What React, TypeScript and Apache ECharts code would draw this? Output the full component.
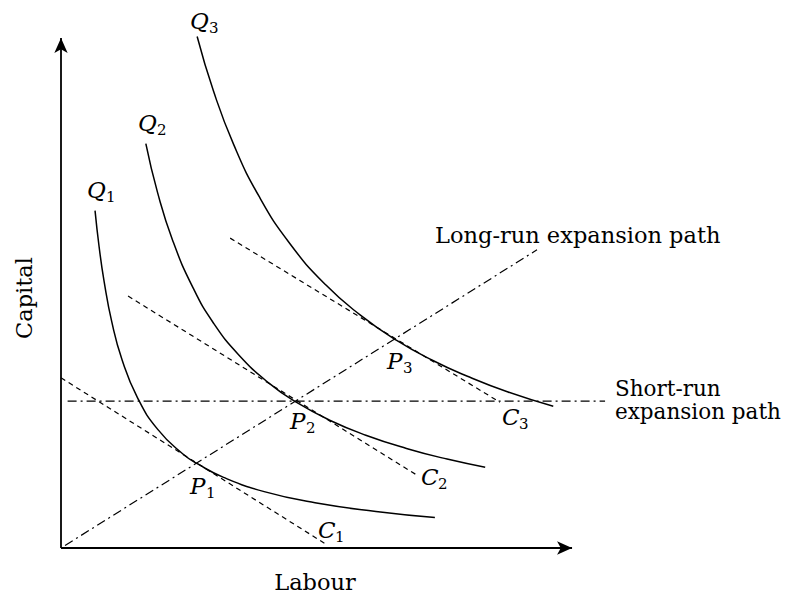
import React, { useEffect, useRef } from "react";
import * as echarts from "echarts";

// Isoquants
const q1X = [0.67, 0.75, 0.85, 1.0, 1.2, 1.5, 1.9, 2.4, 2.7, 3.2, 4.0, 5.0, 6.2, 7.36];
const q1Y = [6.64, 5.93, 5.24, 4.45, 3.71, 2.97, 2.34, 1.85, 1.65, 1.39, 1.11, 0.89, 0.72, 0.6];
const q2X = [1.67, 1.9, 2.2, 2.6, 3.0, 3.5, 4.1, 4.63, 5.3, 6.0, 6.8, 7.6, 8.35];
const q2Y = [7.96, 7.0, 6.05, 5.12, 4.43, 3.8, 3.24, 2.87, 2.51, 2.22, 1.96, 1.75, 1.59];
const q3X = [2.68, 3.0, 3.4, 3.9, 4.5, 5.2, 5.9, 6.6, 7.3, 8.0, 8.8, 9.69];
const q3Y = [10.07, 9.0, 7.94, 6.92, 6.0, 5.19, 4.58, 4.09, 3.7, 3.38, 3.07, 2.79];

// Isocost lines (endpoints)
const c1 = [[0, 3.35], [5.24, 0.06]];
const c2 = [[1.32, 4.96], [7.03, 1.42]];
const c3 = [[3.33, 6.1], [8.64, 2.87]];

// Expansion paths
const longRun = [[0.08, 0.05], [9.37, 5.87]];
const shortRun = [[0.13, 2.89], [10.71, 2.89]];

// Axis extents
const axisEndX = 10.06;
const axisEndY = 10.04;

const zip = (xs: number[], ys: number[]) => xs.map((x, i) => [x, ys[i]]);

const FONT = "'DejaVu Serif', 'Liberation Serif', serif";

function sub(x: number, y: number, letter: string, idx: string, off: number) {
  return [
    {
      type: "text",
      x,
      y,
      style: {
        text: letter,
        font: `italic 23px ${FONT}`,
        fill: "#000",
        align: "left",
        verticalAlign: "middle",
      },
    },
    {
      type: "text",
      x: x + off,
      y: y + 7,
      style: {
        text: idx,
        font: `15px ${FONT}`,
        fill: "#000",
        align: "left",
        verticalAlign: "middle",
      },
    },
  ];
}

export default function App() {
  const ref = useRef<HTMLDivElement>(null);
  useEffect(() => {
    const chart = echarts.init(ref.current!, undefined, { renderer: "svg" });
    const curve = { color: "#000", width: 1.5, type: "solid" as const };
    const dashed = { color: "#000", width: 1.2, type: [5, 4] as any };
    const dashDot = { color: "#000", width: 1.2, type: [9, 4, 2, 4] as any };
    const lineSeries = (data: number[][], lineStyle: any, smooth = false) => ({
      type: "line",
      data,
      showSymbol: false,
      symbol: "none",
      smooth,
      lineStyle,
      silent: true,
      clip: false,
    });
    const label = (x: number, y: number, text: string, align = "left", rotation = 0, size = 22.5) => ({
      type: "text",
      x,
      y,
      rotation,
      style: { text, font: `${size}px ${FONT}`, fill: "#000", align, verticalAlign: "middle" },
    });
    chart.setOption({
      animation: false,
      backgroundColor: "#fff",
      grid: { left: 61, right: 30.8, top: 4.44, bottom: 56 },
      xAxis: { type: "value", min: 0, max: 14, show: false },
      yAxis: { type: "value", min: 0, max: 10.7, show: false },
      series: [
        lineSeries(zip(q1X, q1Y), curve, true),
        lineSeries(zip(q2X, q2Y), curve, true),
        lineSeries(zip(q3X, q3Y), curve, true),
        lineSeries(c1, dashed),
        lineSeries(c2, dashed),
        lineSeries(c3, dashed),
        lineSeries(longRun, dashDot),
        lineSeries(shortRun, dashDot),
        {
          type: "line",
          data: [[0, 0]],
          symbol: "none",
          silent: true,
          lineStyle: { width: 0 },
          markLine: {
            silent: true,
            animation: false,
            symbol: ["none", "arrow"],
            symbolSize: [10, 15],
            label: { show: false },
            lineStyle: { color: "#000", width: 1.8, type: "solid" },
            emphasis: { disabled: true },
            data: [
              [{ coord: [0, 0] }, { coord: [axisEndX, 0] }],
              [{ coord: [0, 0] }, { coord: [0, axisEndY] }],
            ],
          },
        },
      ],
      graphic: [
        ...sub(87, 190, "Q", "1", 19),
        ...sub(138, 123, "Q", "2", 19),
        ...sub(190, 21, "Q", "3", 19),
        ...sub(190, 486, "P", "1", 16),
        ...sub(290, 421, "P", "2", 16),
        ...sub(387, 361, "P", "3", 16),
        ...sub(318, 530, "C", "1", 17),
        ...sub(421, 477, "C", "2", 17),
        ...sub(502, 417, "C", "3", 17),
        label(435, 235, "Long-run expansion path"),
        label(615, 388, "Short-run", "left", 0, 21.5),
        label(615, 411, "expansion path", "left", 0, 21.5),
        label(315, 582, "Labour", "center"),
        label(24, 298, "Capital", "center", Math.PI / 2),
      ],
    });
    return () => chart.dispose();
  }, []);
  return (
    <div
      ref={ref}
      style={{ position: "fixed", left: 0, top: 0, width: 803, height: 604, background: "#fff" }}
    />
  );
}
